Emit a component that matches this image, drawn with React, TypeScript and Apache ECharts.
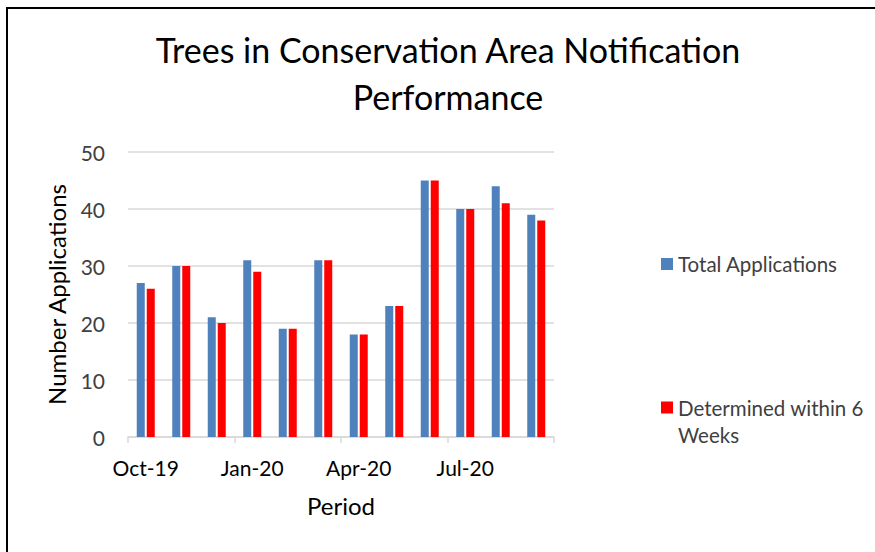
import React, { useEffect, useRef } from "react";
import * as echarts from "echarts";

const periods = [
  "Oct-19", "Nov-19", "Dec-19", "Jan-20", "Feb-20", "Mar-20",
  "Apr-20", "May-20", "Jun-20", "Jul-20", "Aug-20", "Sep-20",
];
const totalApplications = [27, 30, 21, 31, 19, 31, 18, 23, 45, 40, 44, 39];
const determinedWithin6Weeks = [26, 30, 20, 29, 19, 31, 18, 23, 45, 40, 41, 38];
const seriesNames = ["Total Applications", "Determined within 6 Weeks"];
const titleLines = ["Trees in Conservation Area Notification", "Performance"];

const FONT = "Lato, 'Open Sans', sans-serif";

export default function App() {
  const ref = useRef<HTMLDivElement>(null);
  useEffect(() => {
    if (!ref.current) return;
    const chart = echarts.init(ref.current, undefined, { renderer: "svg" });
    chart.setOption({
      animation: false,
      backgroundColor: "#ffffff",
      textStyle: { fontFamily: FONT },
      graphic: [
        {
          type: "rect",
          shape: { x: 7, y: 8, width: 900, height: 600 },
          style: { fill: "none", stroke: "#000", lineWidth: 2 },
          silent: true,
        },
        {
          type: "text",
          x: 448,
          y: 26,
          style: {
            text: titleLines.join("\n"),
            fontFamily: FONT,
            fontSize: 34,
            lineHeight: 47,
            fill: "#000",
            align: "center",
            verticalAlign: "top",
          },
        },
      ],
      legend: [
        {
          orient: "vertical",
          left: 661,
          top: 252,
          padding: 0,
          itemWidth: 12,
          itemHeight: 12,
          data: [seriesNames[0]],
          textStyle: { fontFamily: FONT, fontSize: 20.5, lineHeight: 24, color: "#404040" },
          icon: "rect",
        },
        {
          orient: "vertical",
          left: 661,
          top: 367,
          padding: 0,
          itemWidth: 12,
          itemHeight: 12,
          data: [seriesNames[1]],
          formatter: () => " \nDetermined within 6\nWeeks",
          textStyle: {
            fontFamily: FONT,
            fontSize: 20.5,
            lineHeight: 27,
            color: "#404040",
          },
          icon: "rect",
        },
      ],
      grid: { left: 128, right: 321, top: 152, bottom: 115 },
      xAxis: {
        type: "category",
        data: periods,
        boundaryGap: true,
        name: "Period",
        nameLocation: "middle",
        nameGap: 56,
        nameTextStyle: { fontFamily: FONT, fontSize: 24, color: "#000" },
        axisLine: { lineStyle: { color: "#d9d9d9", width: 1.5 } },
        axisTick: { show: true, interval: 2, length: 6, lineStyle: { color: "#d9d9d9", width: 1.5 } },
        axisLabel: { interval: 2, margin: 20, fontFamily: FONT, fontSize: 21, color: "#000" },
      },
      yAxis: {
        type: "value",
        min: 0,
        max: 50,
        interval: 10,
        name: "Number Applications",
        nameLocation: "middle",
        nameGap: 60,
        nameTextStyle: { fontFamily: FONT, fontSize: 24, color: "#000" },
        axisLine: { show: false },
        axisTick: { show: false },
        axisLabel: { margin: 23, fontFamily: FONT, fontSize: 21, color: "#404040" },
        splitLine: { lineStyle: { color: "#d9d9d9", width: 1.5 } },
      },
      series: [
        {
          name: seriesNames[0],
          type: "bar",
          data: totalApplications,
          barWidth: 8,
          barGap: "25%",
          itemStyle: { color: "#4F81BD" },
        },
        {
          name: seriesNames[1],
          type: "bar",
          data: determinedWithin6Weeks,
          barWidth: 8,
          barGap: "25%",
          itemStyle: { color: "#FF0000" },
        },
      ],
    });
    return () => chart.dispose();
  }, []);
  return (
    <div
      ref={ref}
      style={{ position: "fixed", left: 0, top: 0, width: 875, height: 552 }}
    />
  );
}
